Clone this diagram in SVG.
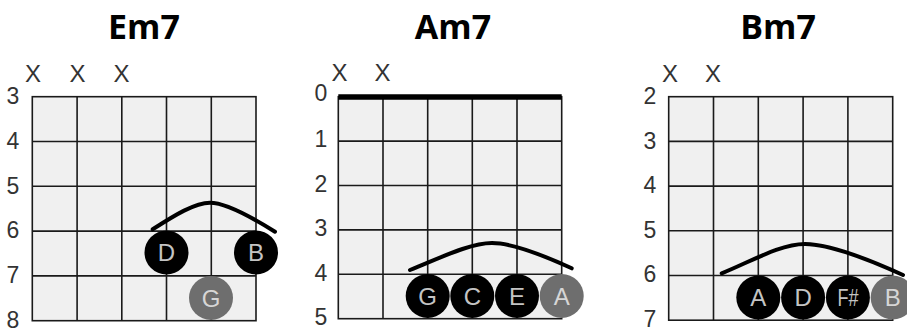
<svg xmlns="http://www.w3.org/2000/svg" width="907" height="331" viewBox="0 0 907 331">
<style>
.title{font-family:"Open Sans","Liberation Sans",sans-serif;font-weight:700;font-size:34px;fill:#000;text-anchor:middle}
.fret{font-family:"Liberation Sans",Arial,sans-serif;font-size:23px;fill:#333;text-anchor:middle}
.mute{font-family:"Liberation Sans",Arial,sans-serif;font-size:24px;fill:#333;text-anchor:middle}
.grid{fill:#f0f0f0;stroke:#1a1a1a;stroke-width:1.6}
.line{stroke:#1a1a1a;stroke-width:1.6;fill:none}
.nut{stroke:#000;stroke-width:5.5}
.dot{fill:#000}
.dotg{fill:#6e6e6e}
.note{font-family:"Liberation Sans",Arial,sans-serif;font-size:24px;fill:#c4c4c4;text-anchor:middle}
.noteg{fill:#d6d6d6}
.barre{fill:none;stroke:#000;stroke-width:4;stroke-linecap:round}
</style>
<rect width="907" height="331" fill="#fff"/>

<g id="chord-em7">
  <text class="title" x="144" y="39">Em7</text>
  <rect class="grid" x="32.3" y="96.7" width="223.7" height="224"/>
  <path class="line" d="M77.1,96.7V320.7M121.8,96.7V320.7M166.5,96.7V320.7M211.3,96.7V320.7M32.3,141.5H256M32.3,186.3H256M32.3,231.1H256M32.3,275.9H256"/>
  <g class="mute"><text x="33" y="81.5">X</text><text x="77.5" y="81.5">X</text><text x="121.5" y="81.5">X</text></g>
  <g class="fret"><text x="13" y="103.5">3</text><text x="13" y="149">4</text><text x="13" y="193.5">5</text><text x="13" y="238">6</text><text x="13" y="282.5">7</text><text x="13" y="327.5">8</text></g>
</g>

<g id="chord-am7">
  <text class="title" x="453" y="39">Am7</text>
  <rect class="grid" x="338.3" y="96.7" width="223.4" height="222"/>
  <path class="line" d="M383,96.7V318.7M427.7,96.7V318.7M472.3,96.7V318.7M517,96.7V318.7M338.3,141.1H561.7M338.3,185.5H561.7M338.3,229.9H561.7M338.3,274.3H561.7"/>
  <line class="nut" x1="338.3" y1="97" x2="561.7" y2="97"/>
  <g class="mute"><text x="339.5" y="80.5">X</text><text x="382.5" y="80.5">X</text></g>
  <g class="fret"><text x="321" y="101">0</text><text x="321" y="147">1</text><text x="321" y="191.5">2</text><text x="321" y="236">3</text><text x="321" y="280.5">4</text><text x="321" y="325">5</text></g>
</g>

<g id="chord-bm7">
  <text class="title" x="778" y="39">Bm7</text>
  <rect class="grid" x="668.7" y="96.7" width="224" height="223.5"/>
  <path class="line" d="M713.5,96.7V320.2M758.3,96.7V320.2M803.1,96.7V320.2M847.9,96.7V320.2M668.7,141.4H892.7M668.7,186.1H892.7M668.7,230.8H892.7M668.7,275.5H892.7"/>
  <g class="mute"><text x="670" y="81.5">X</text><text x="713" y="81.5">X</text></g>
  <g class="fret"><text x="650" y="103.5">2</text><text x="650" y="148.5">3</text><text x="650" y="193">4</text><text x="650" y="237.5">5</text><text x="650" y="282">6</text><text x="650" y="327">7</text></g>
</g>

<g id="connectors">
  <path class="barre" d="M152.7,229.3 C175,215 195,202.7 210,202.7 C226,202.7 250,216 275,231.7"/>
  <path class="barre" d="M410,270 C440,258 470,243 492,243 C514,243 545,256 571.7,268.3"/>
  <path class="barre" d="M721.7,273.3 C750,262 780,244 805,244 C830,244 870,260 903,275"/>
</g>

<g id="em7-D"><circle class="dot" cx="166.5" cy="252.5" r="22"/><text class="note" x="166.5" y="261">D</text></g>
<g id="em7-B"><circle class="dot" cx="256" cy="252.5" r="22"/><text class="note" x="256" y="261">B</text></g>
<g id="em7-G"><circle class="dotg" cx="211" cy="298" r="22"/><text class="note noteg" x="211" y="306.5">G</text></g>

<g id="am7-G"><circle class="dot" cx="427.7" cy="296" r="22"/><text class="note" x="427.7" y="304.5">G</text></g>
<g id="am7-C"><circle class="dot" cx="472.3" cy="296" r="22"/><text class="note" x="472.3" y="304.5">C</text></g>
<g id="am7-E"><circle class="dot" cx="517" cy="296" r="22"/><text class="note" x="517" y="304.5">E</text></g>
<g id="am7-A"><circle class="dotg" cx="561.7" cy="296" r="22"/><text class="note noteg" x="561.7" y="304.5">A</text></g>

<g id="bm7-A"><circle class="dot" cx="758.3" cy="297.5" r="22"/><text class="note" x="758.3" y="306">A</text></g>
<g id="bm7-D"><circle class="dot" cx="803.1" cy="297.5" r="22"/><text class="note" x="803.1" y="306">D</text></g>
<g id="bm7-Fs"><circle class="dot" cx="847.9" cy="297.5" r="22"/><text class="note" x="847.9" y="306" textLength="21" lengthAdjust="spacingAndGlyphs">F#</text></g>
<g id="bm7-B"><circle class="dotg" cx="892.7" cy="297.5" r="22"/><text class="note noteg" x="892.7" y="306">B</text></g>
</svg>
